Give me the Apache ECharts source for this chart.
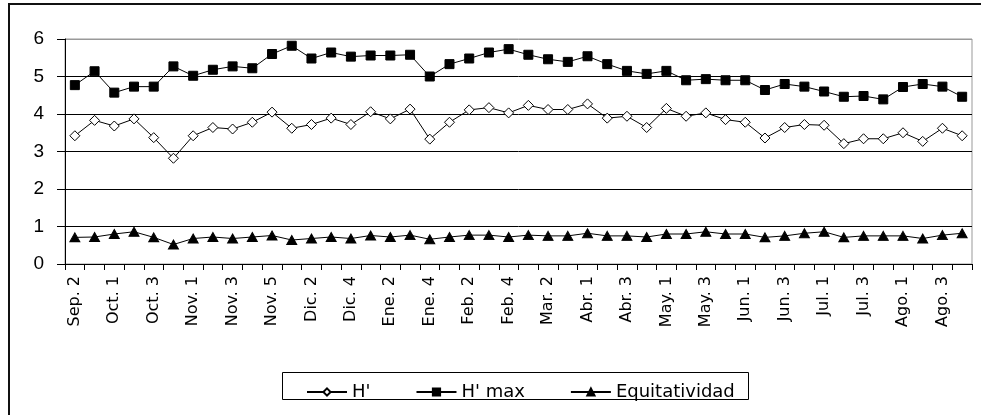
<!DOCTYPE html>
<html>
<head>
<meta charset="utf-8">
<script src="https://cdn.jsdelivr.net/npm/echarts@6/dist/echarts.min.js"></script>
<style>
  html, body { margin: 0; padding: 0; background: #fff; }
  #chart { width: 981px; height: 415px; }
</style>
</head>
<body>
<div id="chart"></div>
<script>
// Weekly sampling periods (month abbreviation + week number)
const weeks = [
  'Sep. 2', 'Sep. 3', 'Oct. 1', 'Oct. 2', 'Oct. 3', 'Oct. 4',
  'Nov. 1', 'Nov. 2', 'Nov. 3', 'Nov. 4', 'Nov. 5',
  'Dic. 1', 'Dic. 2', 'Dic. 3', 'Dic. 4',
  'Ene. 1', 'Ene. 2', 'Ene. 3', 'Ene. 4',
  'Feb. 1', 'Feb. 2', 'Feb. 3', 'Feb. 4',
  'Mar. 1', 'Mar. 2', 'Mar. 3',
  'Abr. 1', 'Abr. 2', 'Abr. 3', 'Abr. 4',
  'May. 1', 'May. 2', 'May. 3', 'May. 4',
  'Jun. 1', 'Jun. 2', 'Jun. 3', 'Jun. 4',
  'Jul. 1', 'Jul. 2', 'Jul. 3', 'Jul. 4',
  'Ago. 1', 'Ago. 2', 'Ago. 3', 'Ago. 4'
];

// Shannon diversity H'
const hShannon = [
  3.42, 3.83, 3.68, 3.87, 3.37, 2.82, 3.42, 3.64, 3.60, 3.78, 4.05,
  3.62, 3.72, 3.89, 3.72, 4.06, 3.87, 4.13, 3.33, 3.78, 4.11, 4.17,
  4.03, 4.23, 4.12, 4.12, 4.27, 3.89, 3.94, 3.64, 4.15, 3.94, 4.03,
  3.85, 3.78, 3.36, 3.64, 3.72, 3.70, 3.21, 3.34, 3.34, 3.50, 3.27,
  3.62, 3.42
];

// Maximum diversity H' max
const hMax = [
  4.77, 5.14, 4.57, 4.73, 4.73, 5.27, 5.02, 5.18, 5.27, 5.22, 5.60,
  5.82, 5.48, 5.64, 5.53, 5.56, 5.56, 5.58, 5.00, 5.33, 5.48, 5.64,
  5.73, 5.58, 5.46, 5.39, 5.54, 5.33, 5.15, 5.07, 5.15, 4.90, 4.93,
  4.90, 4.90, 4.64, 4.80, 4.73, 4.60, 4.46, 4.48, 4.39, 4.72, 4.80,
  4.73, 4.46
];

// Evenness (Equitatividad)
const evenness = [
  0.71, 0.72, 0.80, 0.86, 0.71, 0.52, 0.68, 0.72, 0.68, 0.72, 0.76,
  0.64, 0.68, 0.72, 0.68, 0.76, 0.72, 0.77, 0.66, 0.72, 0.77, 0.77,
  0.72, 0.77, 0.75, 0.75, 0.82, 0.75, 0.75, 0.72, 0.80, 0.80, 0.86,
  0.80, 0.80, 0.71, 0.75, 0.82, 0.86, 0.71, 0.75, 0.75, 0.75, 0.68,
  0.77, 0.82
];

const yTicks = [0, 1, 2, 3, 4, 5, 6];

const chart = echarts.init(document.getElementById('chart'), null, { renderer: 'canvas' });

const lineCommon = {
  type: 'line',
  animation: false,
  lineStyle: { color: '#000', width: 1 },
  itemStyle: { color: '#000', borderColor: '#000', borderWidth: 1 },
  emphasis: { disabled: true }
};

chart.setOption({
  backgroundColor: '#fff',
  animation: false,
  textStyle: { fontFamily: 'Liberation Sans, Arial, sans-serif', color: '#000' },
  graphic: [
    // outer chart frame
    { type: 'rect', shape: { x: 9, y: 4, width: 1000, height: 1000 },
      style: { fill: 'none', stroke: '#111', lineWidth: 2 }, silent: true, z: 0 },
    // legend frame
    { type: 'rect', shape: { x: 282.5, y: 372.5, width: 466, height: 27 },
      style: { fill: '#fff', stroke: '#000', lineWidth: 1 }, silent: true, z: 0 }
  ],
  grid: {
    left: 65, right: 9, top: 39, bottom: 151,
    show: true, borderColor: '#999', borderWidth: 1, backgroundColor: '#fff'
  },
  legend: {
    left: 301, top: 378,
    itemWidth: 40, itemHeight: 9, itemGap: 45,
    textStyle: { fontFamily: 'DejaVu Sans, sans-serif', fontSize: 18, color: '#000' },
    data: ["H'", "H' max", 'Equitatividad'],
    z: 10
  },
  xAxis: {
    type: 'category',
    data: weeks,
    boundaryGap: true,
    axisLine: { lineStyle: { color: '#000', width: 1 } },
    axisTick: { show: true, interval: 0, length: 6, lineStyle: { color: '#000' } },
    axisLabel: {
      interval: 1, rotate: 90, margin: 12,
      fontFamily: 'DejaVu Sans, sans-serif', fontSize: 16, color: '#000'
    },
    splitLine: { show: false }
  },
  yAxis: {
    type: 'value',
    min: yTicks[0], max: yTicks[yTicks.length - 1], interval: 1,
    axisLine: { show: true, lineStyle: { color: '#000', width: 1 } },
    axisTick: { show: true, length: 8, lineStyle: { color: '#000' } },
    axisLabel: { margin: 21, fontSize: 19, color: '#000' },
    splitLine: { show: true, lineStyle: { color: ['#000', '#000', '#000', '#000', '#000', '#000', '#999'], width: 1 } }
  },
  series: [
    Object.assign({}, lineCommon, {
      name: "H'", data: hShannon, symbol: 'diamond', symbolSize: 10,
      itemStyle: { color: '#fff', borderColor: '#000', borderWidth: 1 }
    }),
    Object.assign({}, lineCommon, {
      name: "H' max", data: hMax, symbol: 'rect', symbolSize: 9
    }),
    Object.assign({}, lineCommon, {
      name: 'Equitatividad', data: evenness, symbol: 'triangle', symbolSize: [10, 9]
    })
  ]
});
</script>
</body>
</html>
